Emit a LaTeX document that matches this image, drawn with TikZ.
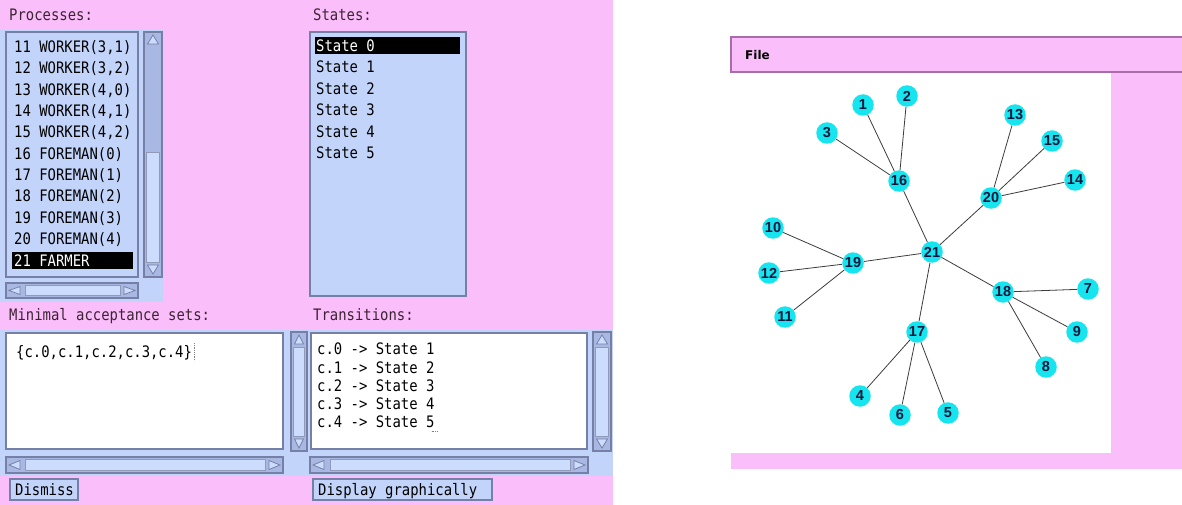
\documentclass[tikz,border=0pt]{standalone}
\usepackage{fontspec}
\setmonofont[FakeStretch=0.88]{DejaVu Sans Mono}
\newfontfamily\graphfont{Liberation Sans}
\newfontfamily\menufont{DejaVu Sans}
\definecolor{pinkbg}{RGB}{250,190,250}
\definecolor{paneblue}{RGB}{194,212,250}
\definecolor{troughcol}{RGB}{168,184,226}
\definecolor{thumbcol}{RGB}{204,220,252}
\definecolor{framecol}{RGB}{118,128,166}
\definecolor{headcol}{RGB}{60,36,50}
\definecolor{barline}{RGB}{168,108,168}
\definecolor{vertexcol}{RGB}{22,228,238}
\definecolor{vertextext}{RGB}{12,22,60}
\definecolor{edgecol}{RGB}{60,60,60}
\tikzset{
	listbox/.style={draw=framecol,line width=2pt,fill=paneblue},
	textbox/.style={draw=framecol,line width=2pt,fill=white},
	trough/.style={draw=framecol,line width=1.2pt,fill=troughcol},
	thumb/.style={draw=framecol!80,line width=0.8pt,fill=thumbcol},
	arrowtri/.style={draw=framecol,line width=0.8pt,fill=thumbcol},
	item/.style={anchor=west,inner sep=0pt,text height=11.4pt,text depth=0pt,
		font=\ttfamily\fontsize{15.8}{17}\selectfont,text=black},
	head/.style={item,text=headcol},
	button/.style={draw=framecol,line width=1.2pt,fill=paneblue},
	vertex/.style={circle,fill=vertexcol,minimum size=21.5pt,inner sep=0pt,
		font=\graphfont\bfseries\fontsize{14.5}{15}\selectfont,text=vertextext},
	edge/.style={draw=edgecol,line width=0.8pt}
}
% vertical scrollbar: x1,y1,x2,y2,thumb top,thumb bottom
\newcommand{\vscrollbar}[6]{%
	\draw[trough] (#1,#2) rectangle (#3,#4);
	\draw[thumb] (#1+2.5,#5) rectangle (#3-2.5,#6);
	\draw[arrowtri] ({(#1+#3)/2},#2+3) -- (#3-3.5,#2+12) -- (#1+3.5,#2+12) -- cycle;
	\draw[arrowtri] ({(#1+#3)/2},#4-3) -- (#3-3.5,#4-12) -- (#1+3.5,#4-12) -- cycle;
}
% horizontal scrollbar: x1,y1,x2,y2,thumb left,thumb right
\newcommand{\hscrollbar}[6]{%
	\draw[trough] (#1,#2) rectangle (#3,#4);
	\draw[thumb] (#5,#2+2.5) rectangle (#6,#4-2.5);
	\draw[arrowtri] (#1+3,{(#2+#4)/2}) -- (#1+14,#2+3.5) -- (#1+14,#4-3.5) -- cycle;
	\draw[arrowtri] (#3-3,{(#2+#4)/2}) -- (#3-14,#2+3.5) -- (#3-14,#4-3.5) -- cycle;
}
\begin{document}
\begin{tikzpicture}[>=stealth,x=1pt,y=-1pt]
	\fill[white] (0,0) rectangle (1182,505);
	\useasboundingbox (0,0) rectangle (1182,505);
	%	left window
	\fill[pinkbg] (0,0) rectangle (613,505);
	\fill[paneblue] (0,30) rectangle (163,302);
	\fill[paneblue] (0,330) rectangle (613,476);
	\node[head] (hproc) at (9,15) {Processes:};
	\node[head] (hstates) at (313,15) {States:};
	\node[head] (hsets) at (9,315) {Minimal acceptance sets:};
	\node[head] (htrans) at (313,315) {Transitions:};
	%	processes list
	\draw[listbox] (6,32) rectangle (138,277);
	\fill[black] (12,252) rectangle (133,269);
	\node[item] (p11) at (14,47) {11 WORKER(3,1)};
	\node[item] (p12) at (14,68.3) {12 WORKER(3,2)};
	\node[item] (p13) at (14,89.6) {13 WORKER(4,0)};
	\node[item] (p14) at (14,110.9) {14 WORKER(4,1)};
	\node[item] (p15) at (14,132.2) {15 WORKER(4,2)};
	\node[item] (p16) at (14,153.5) {16 FOREMAN(0)};
	\node[item] (p17) at (14,174.8) {17 FOREMAN(1)};
	\node[item] (p18) at (14,196.1) {18 FOREMAN(2)};
	\node[item] (p19) at (14,217.4) {19 FOREMAN(3)};
	\node[item] (p20) at (14,238.7) {20 FOREMAN(4)};
	\node[item,text=white] (p21) at (14,260.5) {21 FARMER};
	\vscrollbar{144}{32}{162}{277}{152}{262}
	\hscrollbar{6}{283}{138}{298}{25}{120}
	%	states list
	\draw[listbox] (310,32) rectangle (466,296);
	\fill[black] (315,37) rectangle (460,54);
	\node[item,text=white] (s0) at (316,45.5) {State 0};
	\node[item] (s1) at (316,67) {State 1};
	\node[item] (s2) at (316,88.5) {State 2};
	\node[item] (s3) at (316,110) {State 3};
	\node[item] (s4) at (316,131.5) {State 4};
	\node[item] (s5) at (316,153) {State 5};
	%	acceptance sets
	\draw[textbox] (6,333) rectangle (283,449);
	\node[item] (sets) at (16,352) {\{c.0,c.1,c.2,c.3,c.4\}};
	\draw[gray,densely dotted,line width=0.8pt] (sets.east)++(2,-9) -- ++(0,18);
	\vscrollbar{291}{332}{307}{451}{347}{436}
	\hscrollbar{6}{457}{283}{473}{25}{265}
	%	transitions
	\draw[textbox] (311,333) rectangle (587,449);
	\node[item] (t0) at (317,349) {c.0 -> State 1};
	\node[item] (t1) at (317,367.3) {c.1 -> State 2};
	\node[item] (t2) at (317,385.6) {c.2 -> State 3};
	\node[item] (t3) at (317,403.9) {c.3 -> State 4};
	\node[item] (t4) at (317,422.2) {c.4 -> State 5};
	\draw[gray,densely dotted,line width=0.8pt] (t4.south east)++(-3,3) -- ++(6,0);
	\vscrollbar{593}{332}{611}{451}{347}{436}
	\hscrollbar{310}{457}{588}{473}{330}{570}
	%	buttons
	\draw[button] (10,479) rectangle (78,500);
	\node[item] (dismiss) at (15,490) {Dismiss};
	\draw[button] (313,479) rectangle (492,500);
	\node[item] (display) at (318,490) {Display graphically};
	%	right window
	\fill[pinkbg] (1111,73) rectangle (1182,469);
	\fill[pinkbg] (731,453) rectangle (1111,469);
	\draw[barline,line width=1.2pt,fill=pinkbg] (1183,37) -- (731,37) -- (731,72) -- (1183,72);
	\draw[barline,line width=2pt] (731,72.5) -- (1183,72.5);
	\node[anchor=west,inner sep=0pt,font=\menufont\bfseries\fontsize{12}{12}\selectfont,text=black] (file) at (745,55) {File};
	%	graph
	\node[vertex] (n21) at (932,252) {21};
	\node[vertex] (n16) at (899,181) {16};
	\node[vertex] (n20) at (991,198) {20};
	\node[vertex] (n19) at (853,263) {19};
	\node[vertex] (n17) at (917,332) {17};
	\node[vertex] (n18) at (1003,292) {18};
	\node[vertex] (n1) at (863,105) {1};
	\node[vertex] (n2) at (907,96) {2};
	\node[vertex] (n3) at (827,133) {3};
	\node[vertex] (n4) at (860,396) {4};
	\node[vertex] (n5) at (948,413) {5};
	\node[vertex] (n6) at (900,415) {6};
	\node[vertex] (n7) at (1088,289) {7};
	\node[vertex] (n8) at (1046,367) {8};
	\node[vertex] (n9) at (1077,332) {9};
	\node[vertex] (n10) at (773,228) {10};
	\node[vertex] (n11) at (785,317) {11};
	\node[vertex] (n12) at (769,273) {12};
	\node[vertex] (n13) at (1015,115) {13};
	\node[vertex] (n14) at (1075,180) {14};
	\node[vertex] (n15) at (1052,141) {15};
	\draw[edge] (n21) -- (n16) (n21) -- (n20) (n21) -- (n19) (n21) -- (n17) (n21) -- (n18);
	\draw[edge] (n16) -- (n1) (n16) -- (n2) (n16) -- (n3);
	\draw[edge] (n20) -- (n13) (n20) -- (n15) (n20) -- (n14);
	\draw[edge] (n19) -- (n10) (n19) -- (n12) (n19) -- (n11);
	\draw[edge] (n18) -- (n7) (n18) -- (n9) (n18) -- (n8);
	\draw[edge] (n17) -- (n4) (n17) -- (n6) (n17) -- (n5);
\end{tikzpicture}
\end{document}
